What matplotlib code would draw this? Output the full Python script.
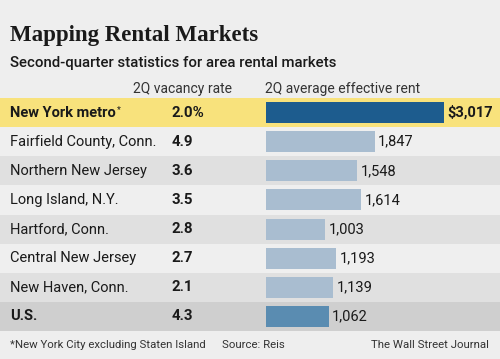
import numpy as np
import matplotlib.pyplot as plt

# data
regions = ["New York metro", "Fairfield County, Conn.", "Northern New Jersey",
           "Long Island, N.Y.", "Hartford, Conn.", "Central New Jersey",
           "New Haven, Conn.", "U.S."]
vacancy = ["2.0%", "4.9", "3.6", "3.5", "2.8", "2.7", "2.1", "4.3"]
rent = [3017, 1847, 1548, 1614, 1003, 1193, 1139, 1062]
rent_labels = ["$3,017", "1,847", "1,548", "1,614", "1,003", "1,193", "1,139", "1,062"]

W, H = 500, 359
bg = "#eeeeee"
band_light = "#efefef"
band_dark = "#e0e0e0"
band_us = "#cfcfcf"
yellow = "#f8e27c"
ink = "#1a1a1a"

fig = plt.figure(figsize=(W / 100, H / 100), dpi=100, facecolor=bg)

# full-figure axes in pixel units for titles and footer
ax0 = fig.add_axes([0, 0, 1, 1])
ax0.set_xlim(0, W)
ax0.set_ylim(H, 0)
ax0.axis("off")

sans = ["Roboto", "DejaVu Sans"]
ax0.text(10, 36, "Mapping Rental Markets", fontsize=16.5, fontweight="bold",
         family=["Liberation Serif"], color=ink, va="center")
ax0.text(10, 63, "Second-quarter statistics for area rental markets", fontsize=10.8,
         fontweight="medium", family=sans, color=ink, va="center")
ax0.text(133, 89, "2Q vacancy rate", fontsize=10, family=sans, color="#333333", va="center")
ax0.text(265, 89, "2Q average effective rent", fontsize=10, family=sans, color="#333333", va="center")
ax0.text(10, 345, "*New York City excluding Staten Island", fontsize=8.2, family=sans,
         color="#333333", va="center")
ax0.text(222, 345, "Source: Reis", fontsize=8.2, family=sans, color="#333333", va="center")
ax0.text(489, 345, "The Wall Street Journal", fontsize=8.2, family=sans, color="#333333",
         va="center", ha="right")

# rows area
top, bottom = 98, 331
n = len(regions)
axr = fig.add_axes([0, 1 - bottom / H, 1, (bottom - top) / H])
axr.set_xlim(0, W)
axr.set_ylim(n - 0.5, -0.5)
axr.axis("off")
for i in range(n):
    if i == 0:
        c = yellow
    elif i == n - 1:
        c = band_us
    elif i % 2 == 1:
        c = band_light
    else:
        c = band_dark
    axr.axhspan(i - 0.5, i + 0.5, color=c, lw=0, zorder=0)
    bold = i in (0, n - 1)
    t = axr.text(10, i, regions[i], fontsize=10.5, family=sans, color=ink, va="center",
                 fontweight="bold" if bold else "normal")
    if i == 0:
        # footnote marker right after the label
        axr.annotate("*", xy=(1, 1), xycoords=t, xytext=(1, 0), textcoords="offset points",
                     fontsize=6.5, family=sans, color=ink, va="top", ha="left")
    axr.text(172, i, vacancy[i], fontsize=10.8, family=sans, color=ink, va="center",
             fontweight="bold")

# bars
x0 = 266
axb = fig.add_axes([x0 / W, 1 - bottom / H, (W - x0) / W, (bottom - top) / H])
axb.set_xlim(0, 3017 * (W - x0) / 178)
axb.set_ylim(n - 0.5, -0.5)
axb.axis("off")
colors = ["#1d5c8e"] + ["#a9bdd0"] * (n - 2) + ["#5a8cb1"]
y = np.arange(n)
axb.barh(y, rent, height=0.72, color=colors, zorder=2)
for i in range(n):
    axb.text(rent[i] + 55, i, rent_labels[i], fontsize=10.5, family=sans, color=ink,
             va="center", fontweight="bold" if i == 0 else "normal")

fig.savefig("out.png", dpi=100, facecolor=bg)
